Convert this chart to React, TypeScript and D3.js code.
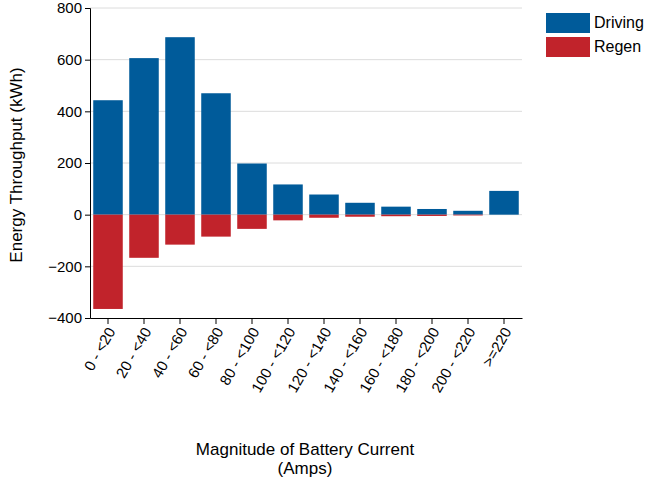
import React, { useRef, useEffect } from 'react';
import * as d3 from 'd3';

const categories = ['0 - <20', '20 - <40', '40 - <60', '60 - <80', '80 - <100', '100 - <120', '120 - <140', '140 - <160', '160 - <180', '180 - <200', '200 - <220', '>=220'];
const driving = [443, 606, 687, 470, 198, 117, 78, 46, 31, 22, 15, 92];
const regen = [-365, -167, -116, -85, -55, -22, -12, -8, -6, -5, -3, 0];
const yTicks = [-400, -200, 0, 200, 400, 600, 800];

export default function App() {
  const ref = useRef<SVGSVGElement>(null);

  useEffect(() => {
    if (!ref.current) return;
    const svg = d3.select(ref.current);
    svg.selectAll('*').remove();
    const margin = { top: 8, left: 90, right: 128, bottom: 167 };
    const width = 650, height = 485;
    const innerW = width - margin.left - margin.right;
    const innerH = height - margin.top - margin.bottom;
    const font = 'Arial, Liberation Sans, sans-serif';

    const g = svg.append('g').attr('transform', `translate(${margin.left},${margin.top})`);
    const x = d3.scaleBand().domain(categories).range([0, innerW]).paddingInner(0.18).paddingOuter(0.09);
    const y = d3.scaleLinear().domain([-400, 800]).range([innerH, 0]);

    // grid
    g.selectAll('.grid').data(yTicks.filter(t => t !== -400)).enter().append('line')
      .attr('x1', 0).attr('x2', innerW).attr('y1', d => y(d)).attr('y2', d => y(d))
      .attr('stroke', '#dcdcdc');

    g.selectAll('.drv').data(driving).enter().append('rect')
      .attr('x', (_, i) => x(categories[i])!).attr('width', x.bandwidth())
      .attr('y', d => y(d)).attr('height', d => y(0) - y(d)).attr('fill', '#005b9a');
    g.selectAll('.reg').data(regen).enter().append('rect')
      .attr('x', (_, i) => x(categories[i])!).attr('width', x.bandwidth())
      .attr('y', y(0)).attr('height', d => y(d) - y(0)).attr('fill', '#c1232b');

    const ya = g.append('g').call(d3.axisLeft(y).tickValues(yTicks).tickSize(5));
    ya.selectAll('text').attr('font-size', 15).attr('font-family', font).attr('fill', '#000');
    const xa = g.append('g').attr('transform', `translate(0,${innerH})`).call(d3.axisBottom(x).tickSize(6).tickSizeOuter(0));
    xa.selectAll('text').attr('font-size', 15).attr('font-family', font).attr('fill', '#000')
      .attr('text-anchor', 'end').attr('transform', 'rotate(-60)').attr('dx', '-0.5em').attr('dy', '0.3em');

    svg.append('text').attr('transform', `translate(22,${margin.top + innerH / 2 + 2}) rotate(-90)`)
      .attr('text-anchor', 'middle').attr('font-size', 17).attr('font-family', font).text('Energy Throughput (kWh)');
    svg.append('text').attr('x', margin.left + innerW / 2 - 1).attr('y', 455)
      .attr('text-anchor', 'middle').attr('font-size', 17).attr('font-family', font).text('Magnitude of Battery Current');
    svg.append('text').attr('x', margin.left + innerW / 2 - 1).attr('y', 474)
      .attr('text-anchor', 'middle').attr('font-size', 17).attr('font-family', font).text('(Amps)');

    const legend = [['Driving', '#005b9a'], ['Regen', '#c1232b']];
    legend.forEach(([name, c], i) => {
      svg.append('rect').attr('x', 546).attr('y', 13 + i * 24).attr('width', 44).attr('height', 20).attr('fill', c);
      svg.append('text').attr('x', 594).attr('y', 28 + i * 24).attr('font-size', 16).attr('font-family', font).text(name);
    });
  }, []);

  return <svg ref={ref} width={650} height={485} style={{ position: 'absolute', left: 0, top: 0 }} />;
}
